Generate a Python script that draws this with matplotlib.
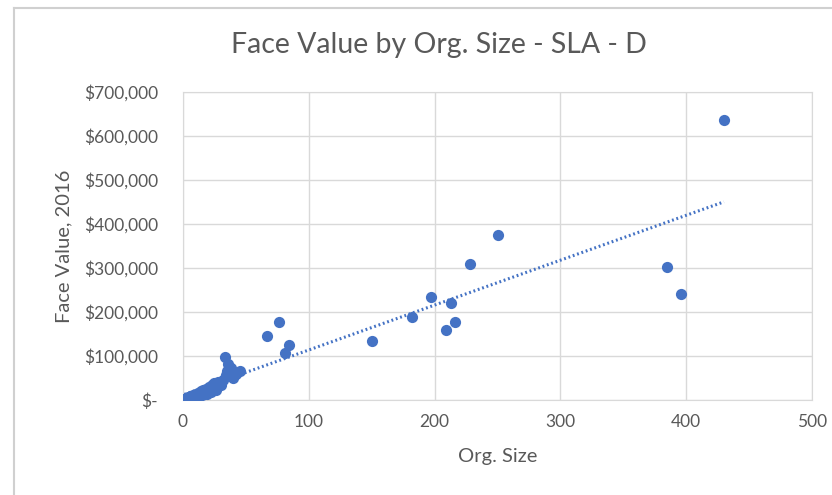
import numpy as np
import matplotlib
matplotlib.use("Agg")
import matplotlib.pyplot as plt
from matplotlib.lines import Line2D
from matplotlib.ticker import FuncFormatter

# org size vs face value (2016)
org_size = [1, 2, 3, 4, 5, 6, 7, 8, 9, 10, 11, 12, 13, 14, 15, 16, 17, 18, 19,
            20, 21, 22, 23, 24, 25, 26, 28, 30, 32, 33, 34, 35, 36, 38, 40, 42,
            45, 67, 76, 81, 84, 150, 182, 197, 209, 213, 216, 228, 250, 385,
            396, 430]
face_value = [2000, 1000, 4000, 6000, 2000, 9000, 4000, 11000, 6000, 14000,
              8000, 17000, 9000, 20000, 12000, 22000, 15000, 26000, 13000,
              24000, 30000, 18000, 33000, 27000, 38000, 22000, 40000, 34000,
              46000, 98000, 56000, 66000, 82000, 72000, 50000, 60000, 66000,
              145000, 177000, 107000, 125000, 134000, 189000, 234000, 159000,
              220000, 177000, 309000, 375000, 302000, 241000, 637000]

x_ticks = [0, 100, 200, 300, 400, 500]
y_ticks = [0, 100000, 200000, 300000, 400000, 500000, 600000, 700000]

blue = "#4472C4"
txt = "#595959"
grid = "#D9D9D9"
plt.rcParams['font.family'] = ['Lato', 'DejaVu Sans']

fig = plt.figure(figsize=(8.32, 4.95), dpi=100)
ax = fig.add_axes([183/832, 1-400/495, (812-183)/832, (400-92)/495])

ax.scatter(org_size, face_value, s=65, color=blue, zorder=3, linewidths=0)

# linear trendline across the data range
k, b = np.polyfit(org_size, face_value, 1)
xs = np.array([min(org_size), max(org_size)])
ax.plot(xs, k*xs + b, color=blue, lw=2.2, linestyle=(0, (0.6, 0.9)), zorder=2)

ax.set_xlim(0, 500)
ax.set_ylim(0, 700000)
ax.set_xticks(x_ticks)
ax.set_yticks(y_ticks)
ax.yaxis.set_major_formatter(FuncFormatter(lambda v, p: "$-" if v == 0 else "${:,.0f}".format(v)))
ax.grid(True, color=grid, lw=1)
ax.set_axisbelow(True)
for s in ax.spines.values():
    s.set_color(grid)
ax.tick_params(length=0, colors=txt, labelsize=12.5)
ax.tick_params(axis='y', pad=18)
ax.tick_params(axis='x', pad=10)

ax.set_xlabel("Org. Size", color=txt, fontsize=14.5, labelpad=13)
ax.set_ylabel("Face Value, 2016", color=txt, fontsize=14.5, labelpad=8)
fig.text(439/832, 1-45/495, "Face Value by Org. Size - SLA - D", color=txt,
         fontsize=20.5, ha='center', va='center')

# chart frame
fig.add_artist(Line2D([14/832, 14/832], [0, 1-8/495], color="#D0D0D0", lw=1.5))
fig.add_artist(Line2D([14/832, 1], [1-8/495, 1-8/495], color="#D0D0D0", lw=1.5))

fig.savefig("out.png", dpi=100)
